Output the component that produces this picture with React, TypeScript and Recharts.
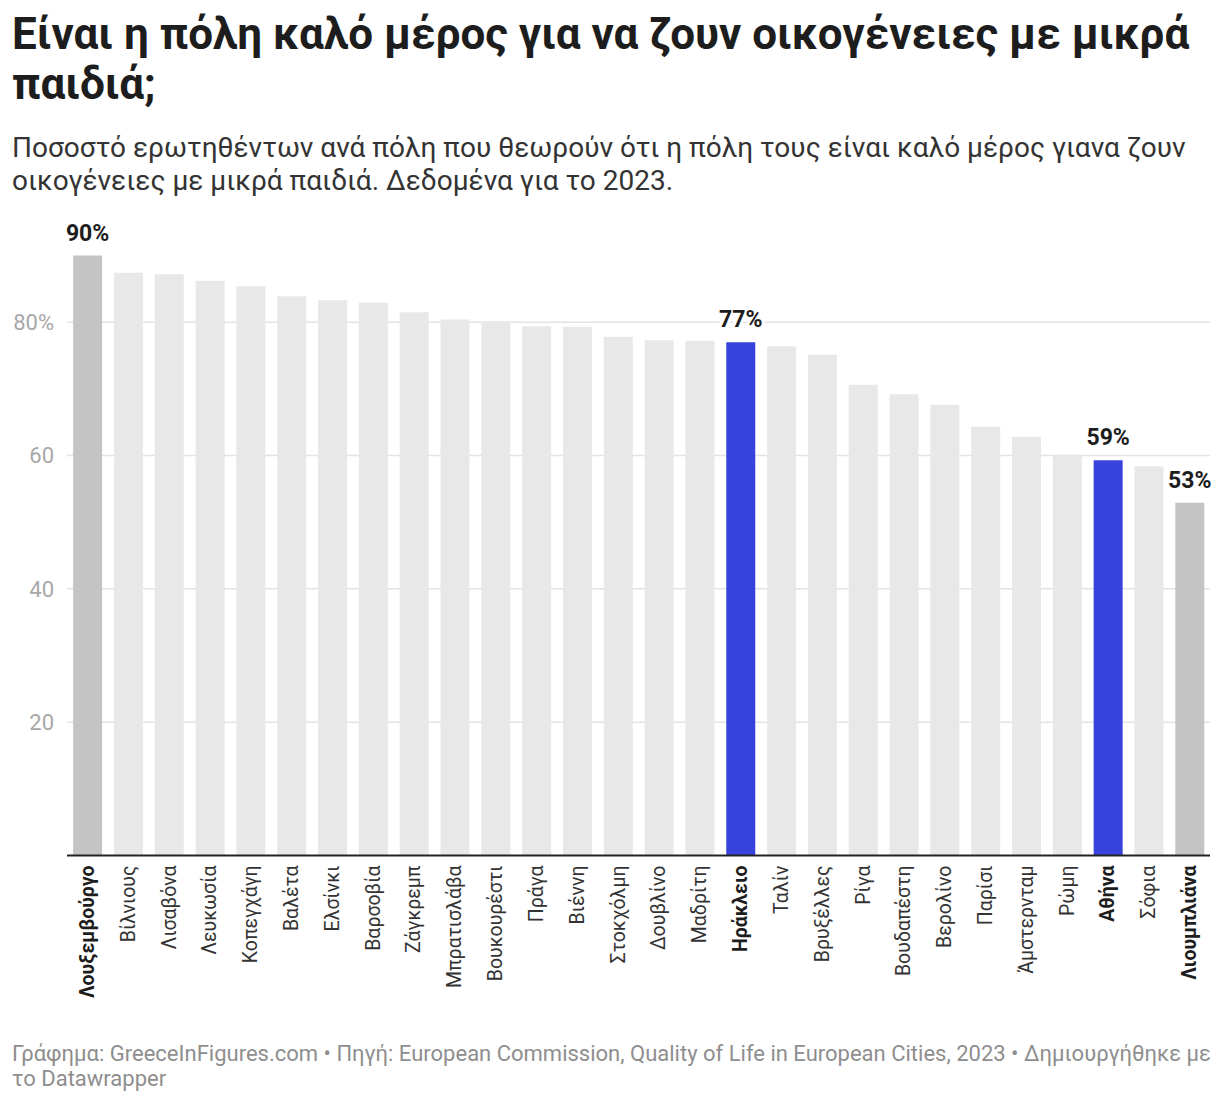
import React from 'react';
import { BarChart, Bar, XAxis, YAxis, CartesianGrid, Cell, LabelList } from 'recharts';

const cities = [
  'Λουξεμβούργο', 'Βίλνιους', 'Λισαβόνα', 'Λευκωσία', 'Κοπεγχάγη', 'Βαλέτα', 'Ελσίνκι',
  'Βαρσοβία', 'Ζάγκρεμπ', 'Μπρατισλάβα', 'Βουκουρέστι', 'Πράγα', 'Βιέννη', 'Στοκχόλμη',
  'Δουβλίνο', 'Μαδρίτη', 'Ηράκλειο', 'Ταλίν', 'Βρυξέλλες', 'Ρίγα', 'Βουδαπέστη',
  'Βερολίνο', 'Παρίσι', 'Άμστερνταμ', 'Ρώμη', 'Αθήνα', 'Σόφια', 'Λιουμπλιάνα',
];

const shares = [
  90.0, 87.4, 87.2, 86.2, 85.4, 83.9, 83.3,
  82.9, 81.5, 80.4, 80.1, 79.4, 79.3, 77.8,
  77.3, 77.2, 77.0, 76.4, 75.1, 70.6, 69.2,
  67.6, 64.3, 62.8, 60.0, 59.3, 58.4, 52.9,
];

// cities highlighted in blue, and the best / worst in dark grey
const highlighted = ['Ηράκλειο', 'Αθήνα'];
const extremes = ['Λουξεμβούργο', 'Λιουμπλιάνα'];

const yTicks = [20, 40, 60, 80];

const title = 'Είναι η πόλη καλό μέρος για να ζουν οικογένειες με μικρά παιδιά;';
const subtitle =
  'Ποσοστό ερωτηθέντων ανά πόλη που θεωρούν ότι η πόλη τους είναι καλό μέρος γιανα ζουν οικογένειες με μικρά παιδιά. Δεδομένα για το 2023.';
const footer =
  'Γράφημα: GreeceInFigures.com • Πηγή: European Commission, Quality of Life in European Cities, 2023 • Δημιουργήθηκε με το Datawrapper';

const data = cities.map((city, i) => ({ city, value: shares[i] }));

const FONT = 'Roboto, "Noto Sans", sans-serif';

const isBold = (city: string) => highlighted.includes(city) || extremes.includes(city);

const barColor = (city: string) => {
  if (highlighted.includes(city)) return '#3843dc';
  if (extremes.includes(city)) return '#c4c4c4';
  return '#e8e8e8';
};

const CityTick = ({ x, y, payload }: any) => {
  const bold = isBold(payload.value);
  return (
    <text
      transform={`translate(${x},${y + 2}) rotate(-90)`}
      textAnchor="end"
      dominantBaseline="central"
      fontFamily={FONT}
      fontSize={19.5}
      fontWeight={bold ? 700 : 400}
      fill={bold ? '#1d1d1d' : '#333'}
    >
      {payload.value}
    </text>
  );
};

const ValueLabel = (props: any) => {
  const { x, y, width, value, index } = props;
  if (!isBold(cities[index])) return null;
  return (
    <text
      x={x + width / 2}
      y={y - 15}
      textAnchor="middle"
      fontFamily={FONT}
      fontSize={23}
      fontWeight={700}
      fill="#1d1d1d"
      stroke="#fff"
      strokeWidth={6}
      paintOrder="stroke"
    >
      {`${Math.round(value)}%`}
    </text>
  );
};

export default function App() {
  return (
    <div style={{ position: 'absolute', left: 0, top: 0, width: 1220, height: 1106, background: '#fff', fontFamily: FONT }}>
      <div style={{ position: 'absolute', left: 12, top: 9, width: 1200, fontSize: 44, lineHeight: '50px', fontWeight: 700, color: '#1d1d1d' }}>
        {title}
      </div>
      <div style={{ position: 'absolute', left: 12, top: 131, width: 1200, fontSize: 28, lineHeight: '33px', color: '#333' }}>
        {subtitle}
      </div>
      <div style={{ position: 'absolute', left: 0, top: 200 }}>
        <BarChart
          width={1220}
          height={830}
          data={data}
          margin={{ top: 55.5, right: 10, bottom: 0, left: 0 }}
          barCategoryGap="15%"
        >
          <CartesianGrid horizontal vertical={false} horizontalValues={yTicks} stroke="#e3e3e3" strokeWidth={1.5} />
          <XAxis
            dataKey="city"
            interval={0}
            height={174.5}
            tickLine={false}
            axisLine={{ stroke: '#222', strokeWidth: 2 }}
            tick={<CityTick />}
          />
          <YAxis
            width={67}
            domain={[0, 90]}
            ticks={yTicks}
            axisLine={false}
            tickLine={false}
            tickSize={0}
            tickMargin={13}
            tickFormatter={(v: number) => (v === 80 ? '80%' : String(v))}
            tick={{ fill: '#a8a8a8', fontSize: 22, fontFamily: FONT }}
          />
          <Bar dataKey="value" isAnimationActive={false}>
            {data.map((d) => (
              <Cell key={d.city} fill={barColor(d.city)} />
            ))}
            <LabelList dataKey="value" content={<ValueLabel />} />
          </Bar>
        </BarChart>
      </div>
      <div style={{ position: 'absolute', left: 12, top: 1041, width: 1205, fontSize: 22, lineHeight: '25px', color: '#8e8e8e' }}>
        {footer}
      </div>
    </div>
  );
}
